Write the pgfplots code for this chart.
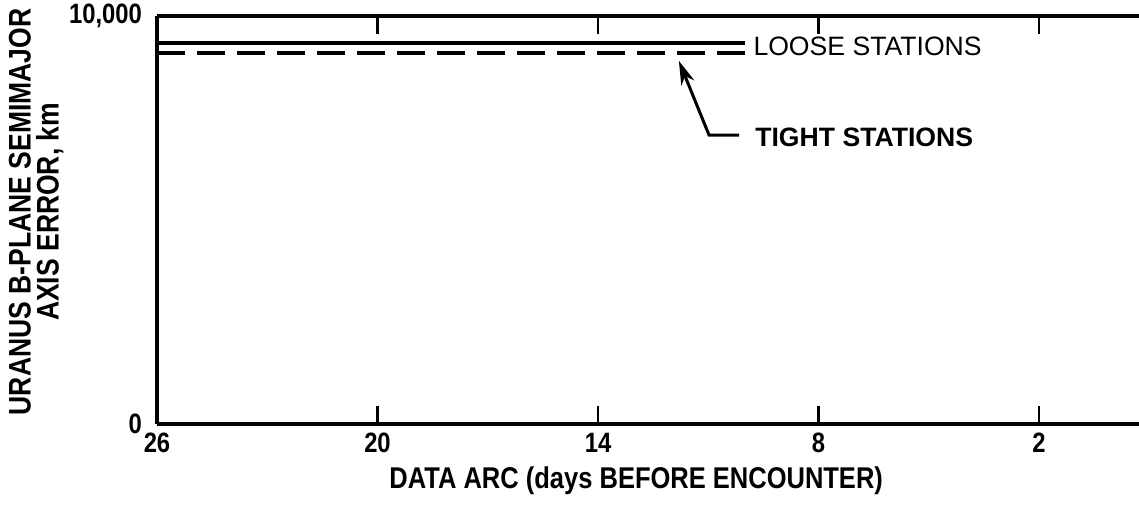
\documentclass[border=0pt]{standalone}
\usepackage{fontspec}
\setmainfont{Liberation Sans}
\newfontfamily\cond{Liberation Sans}[FakeStretch=0.85]
\usepackage{pgfplots}
\pgfplotsset{compat=1.18}
\usetikzlibrary{arrows.meta}
\begin{document}
\begin{tikzpicture}[x=1pt,y=1pt]
\path[use as bounding box] (0,0) rectangle (569.5,258.5);
\begin{axis}[
  at={(78.5pt,46.5pt)}, anchor=south west,
  scale only axis, width=491pt, height=204pt,
  x dir=reverse, xmin=-0.72, xmax=26, ymin=0, ymax=10000,
  axis x line=box, axis y line=left,
  axis line style={line width=1.7pt, -},
  tick align=inside,
  scaled y ticks=false, scaled x ticks=false,
  xtick={26,20,14,8,2}, xticklabels={26,20,14,8,2},
  ytick={0,10000}, yticklabels={0,{10,000}},
  major tick length=9pt,
  tick style={line width=1.2pt, black},
  ytick style={draw=none},
  /pgf/number format/assume math mode=true,
  ticklabel style={font=\cond\bfseries\fontsize{14}{14}\selectfont},
  yticklabel style={xshift=-4pt},
  xticklabel style={yshift=-1pt},
  xlabel={DATA ARC (days BEFORE ENCOUNTER)},
  xlabel style={at={(axis description cs:0.488,-0.14)}, anchor=center,
    font=\cond\bfseries\fontsize{15}{16}\selectfont},
  ylabel={URANUS B-PLANE SEMIMAJOR\\AXIS ERROR, km},
  ylabel style={at={(axis description cs:-0.123,0.52)}, anchor=center,
    align=center, font=\cond\bfseries\fontsize{15.6}{14}\selectfont},
  clip=false,
]
\addplot[black, line width=1.9pt] coordinates {(26,9346) (10,9346)};
\addplot[black, line width=1.9pt, dash pattern=on 14pt off 6pt] coordinates {(26,9085) (10,9085)};
\node[anchor=west, inner sep=0pt, font=\fontsize{13.3}{14}\selectfont] at (axis cs:9.78,9265) {LOOSE STATIONS};
\node[anchor=west, inner sep=0pt, font=\bfseries\fontsize{13.3}{14}\selectfont] at (axis cs:9.73,7034) {TIGHT STATIONS};
\draw[line width=1.5pt, -{Stealth[length=12pt,width=7pt]}] (axis cs:10.16,7083) -- (axis cs:10.98,7083) -- (axis cs:11.80,8900);
\end{axis}
\end{tikzpicture}
\end{document}
